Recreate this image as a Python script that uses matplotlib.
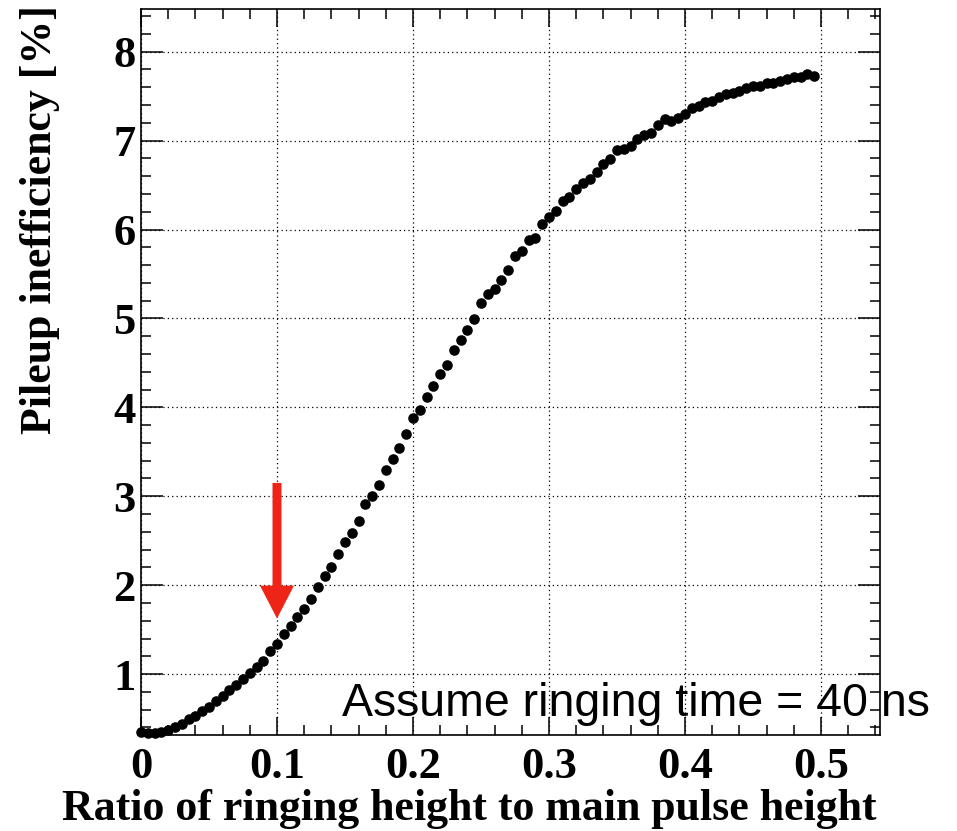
import numpy as np
import matplotlib
matplotlib.use("Agg")
import matplotlib.pyplot as plt
from matplotlib.ticker import MultipleLocator, FixedLocator

ratio = [
    0.000, 0.005, 0.010, 0.015, 0.020, 0.025, 0.030, 0.035, 0.040, 0.045,
    0.050, 0.055, 0.060, 0.065, 0.070, 0.075, 0.080, 0.085, 0.090, 0.095,
    0.100, 0.105, 0.110, 0.115, 0.120, 0.125, 0.130, 0.135, 0.140, 0.145,
    0.150, 0.155, 0.160, 0.165, 0.170, 0.175, 0.180, 0.185, 0.190, 0.195,
    0.200, 0.205, 0.210, 0.215, 0.220, 0.225, 0.230, 0.235, 0.240, 0.245,
    0.250, 0.255, 0.260, 0.265, 0.270, 0.275, 0.280, 0.285, 0.290, 0.295,
    0.300, 0.305, 0.310, 0.315, 0.320, 0.325, 0.330, 0.335, 0.340, 0.345,
    0.350, 0.355, 0.360, 0.365, 0.370, 0.375, 0.380, 0.385, 0.390, 0.395,
    0.400, 0.405, 0.410, 0.415, 0.420, 0.425, 0.430, 0.435, 0.440, 0.445,
    0.450, 0.455, 0.460, 0.465, 0.470, 0.475, 0.480, 0.485, 0.490, 0.495,
]
inefficiency = [
    0.345, 0.34, 0.34, 0.35, 0.37, 0.40, 0.44, 0.49, 0.53, 0.59,
    0.63, 0.70, 0.75, 0.82, 0.88, 0.95, 1.01, 1.08, 1.15, 1.26,
    1.34, 1.45, 1.54, 1.64, 1.73, 1.84, 1.98, 2.10, 2.20, 2.35,
    2.48, 2.59, 2.72, 2.91, 3.00, 3.13, 3.29, 3.42, 3.54, 3.70,
    3.88, 3.97, 4.12, 4.24, 4.38, 4.48, 4.64, 4.76, 4.87, 4.99,
    5.17, 5.27, 5.33, 5.43, 5.54, 5.70, 5.76, 5.88, 5.90, 6.06,
    6.14, 6.21, 6.32, 6.37, 6.46, 6.52, 6.57, 6.65, 6.74, 6.79,
    6.89, 6.90, 6.94, 7.02, 7.06, 7.09, 7.17, 7.24, 7.22, 7.25,
    7.30, 7.37, 7.39, 7.43, 7.44, 7.49, 7.52, 7.54, 7.56, 7.59,
    7.61, 7.61, 7.65, 7.65, 7.67, 7.69, 7.71, 7.72, 7.75, 7.73,
]

x_ticks = [0, 0.1, 0.2, 0.3, 0.4, 0.5]
x_ticklabels = ["0", "0.1", "0.2", "0.3", "0.4", "0.5"]
y_ticks = [1, 2, 3, 4, 5, 6, 7, 8]
y_ticklabels = ["1", "2", "3", "4", "5", "6", "7", "8"]

arrow_x = 0.1
arrow_y_start = 3.15
arrow_y_end = 1.625

xlabel = "Ratio of ringing height to main pulse height"
ylabel = "Pileup inefficiency [%]"
note = "Assume ringing time = 40 ns"

W, H = 957, 831
fig = plt.figure(figsize=(W / 100, H / 100), dpi=100)
L, R, B, T = 141, 880, 735, 9
ax = fig.add_axes([L / W, 1 - B / H, (R - L) / W, (B - T) / H])

ax.set_xlim(0, 0.5434)
ax.set_ylim(0.315, 8.48)

serif = {"family": "Liberation Serif", "weight": "bold"}

ax.xaxis.set_major_locator(FixedLocator(x_ticks))
ax.yaxis.set_major_locator(FixedLocator(y_ticks))
ax.xaxis.set_minor_locator(MultipleLocator(0.02))
ax.yaxis.set_minor_locator(MultipleLocator(0.2))
ax.set_xticklabels(x_ticklabels, fontdict=serif, fontsize=32)
ax.set_yticklabels(y_ticklabels, fontdict=serif, fontsize=32)

ax.tick_params(axis="both", which="both", direction="in", top=True, right=True,
               width=1.1, color="black")
ax.tick_params(axis="x", which="major", length=13, pad=9)
ax.tick_params(axis="y", which="major", length=16, pad=4)
ax.tick_params(axis="both", which="minor", length=7.5)

for s in ax.spines.values():
    s.set_linewidth(1.2)

ax.grid(True, which="major", color="black", linestyle=(0, (1, 2.5)), linewidth=0.9)
ax.set_axisbelow(True)

ax.plot(ratio, inefficiency, linestyle="none", marker="o", markersize=6.6,
        color="black", zorder=3, clip_on=False)

ax.arrow(arrow_x, arrow_y_start, 0, arrow_y_end - arrow_y_start,
         width=0.0066, head_width=0.025, head_length=0.37,
         length_includes_head=True, color="#EE2417", lw=0, zorder=4)

fig.text(62 / W, 1 - 820 / H, xlabel, fontdict=serif, fontsize=31.6,
         ha="left", va="baseline")
fig.text(40 / W, 1 - 220 / H, ylabel, fontdict=serif, fontsize=31.6,
         ha="center", va="center", rotation=90)

fig.text(342 / W, 1 - 716 / H, note, family="Liberation Sans", fontsize=33.5,
         ha="left", va="baseline", color="black", zorder=5)

fig.savefig("out.png", dpi=100)
